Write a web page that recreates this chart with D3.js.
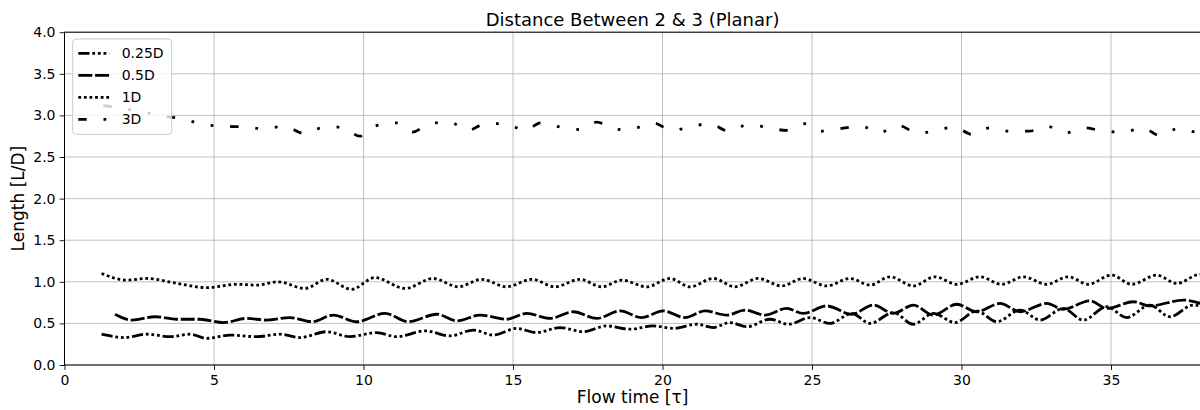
<!DOCTYPE html>
<html>
<head>
<meta charset="utf-8">
<script src="https://cdn.jsdelivr.net/npm/d3@7"></script>
<style>
  html, body { margin: 0; padding: 0; background: #fff; }
  svg { display: block; font-family: "DejaVu Sans", sans-serif; }
</style>
</head>
<body>
<svg id="chart" width="1200" height="410"></svg>
<script>
// Separation between bodies 2 and 3 over flow time, one series per spacing case.
const seriesNames = ["0.25D", "0.5D", "1D", "3D"];

const t025 = [1.24, 2.02, 2.75, 3.53, 4.2, 4.76, 5.54, 6.43, 7.21, 7.88, 8.77, 9.55, 10.44, 11.11, 12.06, 12.89,
  13.68, 14.34, 15.12, 15.79, 16.57, 17.35, 18.13, 18.91, 19.69, 20.36, 21.14, 21.7, 22.26, 22.82, 23.6, 24.21,
  24.93, 25.6, 26.33, 26.94, 27.72, 28.39, 29.06, 29.78, 30.51, 31.18, 31.96, 32.63, 33.4, 34.07, 34.86, 35.52,
  36.3, 36.97, 37.75, 38.3];
const v025 = [0.37, 0.33, 0.37, 0.34, 0.37, 0.32, 0.36, 0.34, 0.37, 0.33, 0.40, 0.34, 0.39, 0.34, 0.41, 0.35,
  0.42, 0.36, 0.44, 0.39, 0.45, 0.40, 0.47, 0.43, 0.47, 0.44, 0.49, 0.45, 0.51, 0.46, 0.55, 0.49,
  0.57, 0.50, 0.62, 0.50, 0.63, 0.49, 0.62, 0.51, 0.65, 0.52, 0.66, 0.54, 0.68, 0.54, 0.70, 0.57,
  0.72, 0.58, 0.72, 0.68];

const t05 = [1.69, 2.25, 3.03, 3.75, 4.53, 5.31, 6.09, 6.76, 7.54, 8.27, 8.99, 9.77, 10.72, 11.5, 12.45, 13.12,
  13.9, 14.79, 15.46, 16.24, 17.02, 17.8, 18.58, 19.3, 20.03, 20.75, 21.42, 22.15, 22.76, 23.43, 24.15, 24.71,
  25.49, 26.33, 27.05, 27.72, 28.39, 29.06, 29.84, 30.51, 31.29, 31.96, 32.85, 33.4, 34.3, 34.86, 35.75, 36.3,
  37.42, 38.3];
const v05 = [0.61, 0.54, 0.58, 0.55, 0.55, 0.51, 0.56, 0.54, 0.57, 0.52, 0.60, 0.52, 0.62, 0.52, 0.61, 0.53,
  0.60, 0.55, 0.62, 0.56, 0.64, 0.56, 0.65, 0.57, 0.65, 0.57, 0.65, 0.60, 0.66, 0.60, 0.68, 0.62,
  0.71, 0.61, 0.72, 0.62, 0.72, 0.60, 0.73, 0.64, 0.74, 0.64, 0.74, 0.67, 0.77, 0.68, 0.76, 0.71,
  0.78, 0.70];

const t1 = [1.24, 2.08, 2.75, 3.64, 4.76, 5.76, 6.43, 7.15, 8.04, 8.77, 9.6, 10.38, 11.39, 12.33, 13.17, 13.95,
  14.79, 15.63, 16.4, 17.24, 17.97, 18.64, 19.47, 20.25, 20.92, 21.7, 22.42, 23.2, 23.99, 24.7, 25.49, 26.27,
  26.94, 27.61, 28.39, 29.11, 29.84, 30.62, 31.34, 32.07, 32.85, 33.57, 34.24, 35.02, 35.69, 36.53, 37.2, 37.98,
  38.3];
const v1 = [1.10, 1.02, 1.04, 0.99, 0.93, 0.97, 0.96, 1.00, 0.92, 1.03, 0.91, 1.05, 0.92, 1.04, 0.94, 1.03,
  0.94, 1.03, 0.94, 1.03, 0.94, 1.02, 0.94, 1.04, 0.94, 1.04, 0.94, 1.04, 0.95, 1.04, 0.95, 1.04,
  0.96, 1.06, 0.95, 1.06, 0.97, 1.06, 0.97, 1.06, 0.97, 1.06, 0.97, 1.08, 0.97, 1.08, 0.98, 1.09,
  1.07];

const t3 = [1.3, 2.63, 3.36, 4.06, 4.63, 5.33, 6.06, 6.65, 7.34, 8.04, 8.6, 9.27, 9.88, 10.38, 11.11, 11.65,
  12.2, 12.87, 13.51, 14.06, 14.73, 15.4, 15.93, 16.57, 17.24, 17.8, 18.44, 19.11, 19.67, 20.33, 21.0, 21.57,
  22.22, 22.87, 23.46, 24.13, 24.77, 25.3, 25.95, 26.66, 27.22, 27.89, 28.52, 29.08, 29.75, 30.37, 30.95, 31.62,
  32.27, 32.85, 33.49, 34.16, 34.74, 35.41, 36.08, 36.61, 37.24, 37.91, 38.3];
const v3 = [3.12, 3.04, 2.99, 2.95, 2.89, 2.87, 2.86, 2.84, 2.87, 2.78, 2.85, 2.86, 2.75, 2.87, 2.91, 2.80,
  2.90, 2.92, 2.82, 2.90, 2.90, 2.82, 2.91, 2.86, 2.83, 2.92, 2.83, 2.85, 2.91, 2.82, 2.87, 2.90,
  2.81, 2.89, 2.86, 2.82, 2.90, 2.81, 2.84, 2.87, 2.79, 2.88, 2.79, 2.81, 2.86, 2.77, 2.85, 2.81,
  2.81, 2.87, 2.79, 2.85, 2.81, 2.80, 2.85, 2.76, 2.84, 2.80, 2.83];

const xTicks = [0, 5, 10, 15, 20, 25, 30, 35];
const xTickLabels = ["0", "5", "10", "15", "20", "25", "30", "35"];
const yTicks = [0, 0.5, 1, 1.5, 2, 2.5, 3, 3.5, 4];
const yTickLabels = ["0.0", "0.5", "1.0", "1.5", "2.0", "2.5", "3.0", "3.5", "4.0"];

const titleText = "Distance Between 2 & 3 (Planar)";
const xLabelText = "Flow time [\u03c4]";
const yLabelText = "Length [L/D]";

// Line styles per series (dash patterns in px)
const lineWidth = 2.8;
const dashes = {
  "0.25D": "11.2,2.8,2.8,2.8,2.8,2.8,2.8,2.8",
  "0.5D": "14,2.8",
  "1D": "2.8,2.8",
  "3D": "8.4,16.8,2.8,16.8,2.8,16.8"
};

const series = [
  { name: "0.25D", t: t025, v: v025 },
  { name: "0.5D", t: t05, v: v05 },
  { name: "1D", t: t1, v: v1 },
  { name: "3D", t: t3, v: v3 }
];

const svg = d3.select("#chart");
const plotLeft = 64.5, plotBottom = 365, plotTop = 32.2, plotRight = 64.5 + 38 * 29.9;

const x = d3.scaleLinear().domain([0, 38]).range([plotLeft, plotRight]);
const y = d3.scaleLinear().domain([0, 4]).range([plotBottom, plotTop]);

// Grid
const grid = svg.append("g");
grid.selectAll("line.gx").data(xTicks).join("line")
  .attr("class", "gx")
  .attr("x1", d => x(d)).attr("x2", d => x(d))
  .attr("y1", plotTop).attr("y2", plotBottom)
  .attr("stroke", "#b0b0b0").attr("stroke-width", 0.8);
grid.selectAll("line.gy").data(yTicks).join("line")
  .attr("class", "gy")
  .attr("x1", plotLeft).attr("x2", plotRight)
  .attr("y1", d => y(d)).attr("y2", d => y(d))
  .attr("stroke", "#b0b0b0").attr("stroke-width", 0.8);

// Clip for data
svg.append("clipPath").attr("id", "plotclip")
  .append("rect").attr("x", plotLeft).attr("y", plotTop)
  .attr("width", plotRight - plotLeft).attr("height", plotBottom - plotTop);

const line = d3.line()
  .x(d => x(d[0])).y(d => y(d[1]))
  .curve(d3.curveMonotoneX);

const plot = svg.append("g").attr("clip-path", "url(#plotclip)");
series.forEach(s => {
  const pts = s.t.map((tt, i) => [tt, s.v[i]]);
  plot.append("path")
    .datum(pts)
    .attr("d", line)
    .attr("fill", "none")
    .attr("stroke", "#000")
    .attr("stroke-width", lineWidth)
    .attr("stroke-linecap", "butt")
    .attr("stroke-linejoin", "round")
    .attr("stroke-dasharray", dashes[s.name]);
});

// Axes
const xAxis = d3.axisBottom(x).tickValues(xTicks)
  .tickFormat((d, i) => xTickLabels[i]).tickSizeInner(4.9).tickSizeOuter(0).tickPadding(5.5);
const yAxis = d3.axisLeft(y).tickValues(yTicks)
  .tickFormat((d, i) => yTickLabels[i]).tickSizeInner(4.9).tickSizeOuter(0).tickPadding(4.1);

const gx = svg.append("g").attr("transform", `translate(0,${plotBottom})`).call(xAxis);
const gy = svg.append("g").attr("transform", `translate(${plotLeft},0)`).call(yAxis);
[gx, gy].forEach(g => {
  g.select(".domain").remove();
  g.selectAll(".tick line").attr("stroke", "#000").attr("stroke-width", 0.9);
  g.selectAll(".tick text").attr("fill", "#000")
    .style("font-family", "'DejaVu Sans', sans-serif").style("font-size", "14px");
});

// Spines
svg.append("rect")
  .attr("x", plotLeft).attr("y", plotTop)
  .attr("width", plotRight - plotLeft).attr("height", plotBottom - plotTop)
  .attr("fill", "none").attr("stroke", "#000").attr("stroke-width", 1);

// Title and axis labels
svg.append("text")
  .attr("x", (plotLeft + plotRight) / 2).attr("y", 26)
  .attr("text-anchor", "middle")
  .style("font-size", "18px").attr("fill", "#000")
  .text(titleText);

svg.append("text")
  .attr("x", (plotLeft + plotRight) / 2).attr("y", 403)
  .attr("text-anchor", "middle")
  .style("font-size", "17px").attr("fill", "#000")
  .text(xLabelText);

svg.append("text")
  .attr("transform", `translate(24,${(plotTop + plotBottom) / 2}) rotate(-90)`)
  .attr("text-anchor", "middle")
  .style("font-size", "17px").attr("fill", "#000")
  .text(yLabelText);

// Legend
const legend = svg.append("g");
legend.append("rect")
  .attr("x", 72.7).attr("y", 39).attr("width", 99).attr("height", 95.3)
  .attr("rx", 3.5).attr("ry", 3.5)
  .attr("fill", "rgba(255,255,255,0.8)")
  .attr("stroke", "#cccccc").attr("stroke-width", 1);

const rowY = d3.scalePoint().domain(seriesNames).range([53.3, 119.3]);
const rows = legend.selectAll("g.row").data(seriesNames).join("g")
  .attr("class", "row")
  .attr("transform", d => `translate(0,${rowY(d)})`);
rows.append("line")
  .attr("x1", 78.3).attr("x2", 109.3).attr("y1", 0).attr("y2", 0)
  .attr("stroke", "#000").attr("stroke-width", lineWidth)
  .attr("stroke-linecap", "butt")
  .attr("stroke-dasharray", d => dashes[d]);
rows.append("text")
  .attr("x", 121.7).attr("y", 0).attr("dy", "0.36em")
  .style("font-size", "14px").attr("fill", "#000")
  .text(d => d);
</script>
</body>
</html>
